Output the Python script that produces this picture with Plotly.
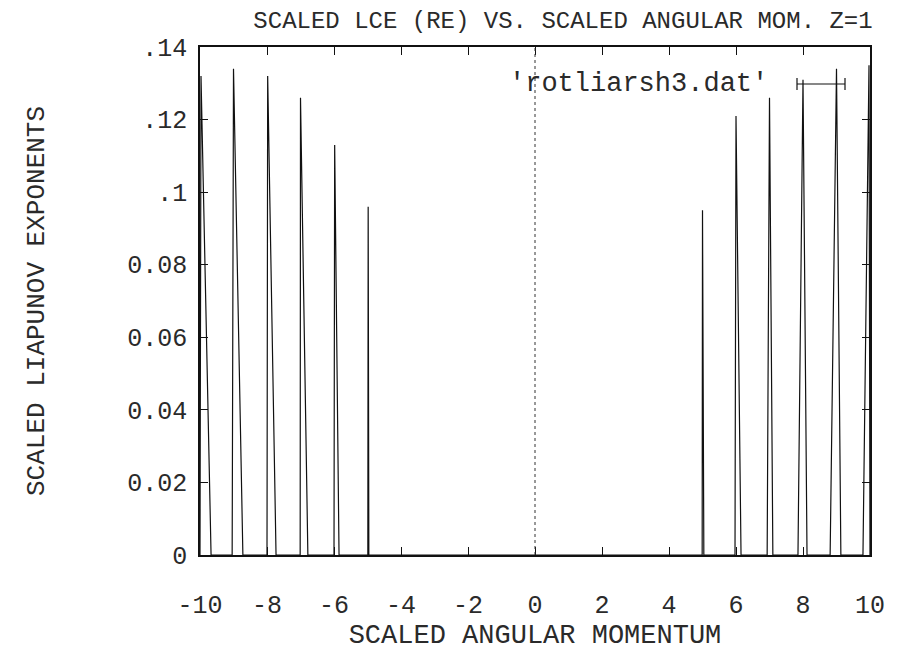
import plotly.graph_objects as go

# spike data: left foot, peak position, peak value, right foot
spike_left_foot = [-10.0, -9.04, -8.0, -7.01, -6.0, -4.99, 4.99, 5.97, 6.93, 7.85, 8.81, 9.79]
spike_peak_x    = [-9.97, -9.0, -7.98, -7.0, -5.98, -4.98, 5.0, 6.0, 7.0, 8.0, 9.0, 9.97]
spike_peak_y    = [0.132, 0.134, 0.132, 0.126, 0.113, 0.096, 0.095, 0.121, 0.126, 0.131, 0.134, 0.135]
spike_right_foot = [-9.67, -8.72, -7.73, -6.78, -5.85, -4.96, 5.04, 6.15, 7.10, 8.12, 9.13, 10.0]

x_ticks = [-10, -8, -6, -4, -2, 0, 2, 4, 6, 8, 10]
x_tick_text = ["-10", "-8", "-6", "-4", "-2", "0", "2", "4", "6", "8", "10"]
y_ticks = [0, 0.02, 0.04, 0.06, 0.08, 0.10, 0.12, 0.14]
y_tick_text = ["0", "0.02", "0.04", "0.06", "0.08", ".1", ".12", ".14"]

xs, ys = [], []
for xl, xp, yp, xr in zip(spike_left_foot, spike_peak_x, spike_peak_y, spike_right_foot):
    xs += [xl, xp, xr]
    ys += [0, yp, 0]

FONT = "Liberation Mono, Courier New, monospace"
INK = "#2a2a2a"

fig = go.Figure()
fig.add_trace(go.Scatter(x=xs, y=ys, mode="lines",
                         line=dict(color="#111", width=1.2),
                         showlegend=False, hoverinfo="skip"))

# dotted zero axis
fig.add_shape(type="line", xref="x", yref="y", x0=0, x1=0, y0=0, y1=0.14,
              line=dict(color="#333", width=1, dash="dot"))

# gnuplot-style key: text then sample line with end ticks
ky = (555 - 84) / 508
fig.add_annotation(xref="paper", yref="paper", x=(770 - 200) / 670, y=ky, xanchor="right",
                   yanchor="middle", text="'rotliarsh3.dat'", showarrow=False,
                   font=dict(family=FONT, size=27, color=INK))
lx0, lx1 = (797 - 200) / 670, (845 - 200) / 670
fig.add_shape(type="line", xref="paper", yref="paper", x0=lx0, x1=lx1, y0=ky, y1=ky,
              line=dict(color="#111", width=1.2))
for lx in (lx0, lx1):
    fig.add_shape(type="line", xref="paper", yref="paper", x0=lx, x1=lx,
                  y0=ky - 0.012, y1=ky + 0.012, line=dict(color="#111", width=1.2))

fig.update_layout(
    width=910, height=654,
    margin=dict(l=200, r=40, t=47, b=99),
    paper_bgcolor="white", plot_bgcolor="white",
    font=dict(family=FONT, size=25, color=INK),
    title=dict(text="SCALED LCE (RE) VS. SCALED ANGULAR MOM. Z=1",
               x=563 / 910, xanchor="center", y=1 - 20 / 654, yanchor="middle",
               font=dict(family=FONT, size=24, color=INK)),
    xaxis=dict(range=[-10, 10], tickvals=x_ticks, ticktext=x_tick_text,
               ticks="inside", ticklen=8, tickcolor="#111", tickwidth=1.2,
               ticklabelstandoff=26, tickfont=dict(size=25),
               showline=True, mirror="allticks", linecolor="#111", linewidth=1.5,
               showgrid=False, zeroline=False,
               title=dict(text="SCALED ANGULAR MOMENTUM", standoff=2,
                          font=dict(family=FONT, size=27, color=INK))),
    yaxis=dict(range=[0, 0.14], tickvals=y_ticks, ticktext=y_tick_text,
               ticks="inside", ticklen=8, tickcolor="#111", tickwidth=1.2,
               ticklabelstandoff=6, tickfont=dict(size=25),
               showline=True, mirror="allticks", linecolor="#111", linewidth=1.5,
               showgrid=False, zeroline=False,
               title=dict(text="SCALED LIAPUNOV EXPONENTS", standoff=75,
                          font=dict(family=FONT, size=26, color=INK))),
)

fig.write_html("out.html")
